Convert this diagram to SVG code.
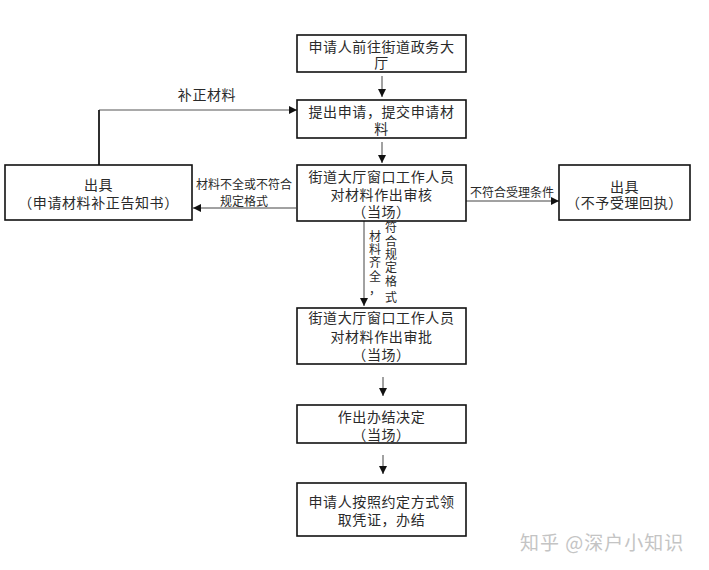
<svg xmlns="http://www.w3.org/2000/svg" width="709" height="570" viewBox="0 0 709 570">
<defs>
<marker id="ah" viewBox="0 0 10 10" refX="10" refY="5" markerWidth="8" markerHeight="8" markerUnits="userSpaceOnUse" orient="auto">
<path d="M0,0 L10,5 L0,10 z" fill="#111"/>
</marker>
<style>
.box{fill:#fff;stroke:#111;stroke-width:1.6}
.t{font-family:"Liberation Sans","Noto Sans CJK SC",sans-serif;font-size:14px;fill:#2a2a2a;text-anchor:middle;letter-spacing:0.6px}
.s{font-family:"Liberation Sans","Noto Sans CJK SC",sans-serif;font-size:12px;fill:#2a2a2a;text-anchor:middle}
.c{fill:none;stroke:#444;stroke-width:1}
.wm{font-family:"Noto Sans CJK SC",sans-serif;font-size:19px;fill:#c4c4c4;text-anchor:start;letter-spacing:1px}
</style>
</defs>
<rect width="709" height="570" fill="#fff"/>
<g id="connectors">
<line class="c" x1="382" y1="76" x2="382" y2="97" marker-end="url(#ah)"/>
<line class="c" x1="382" y1="142" x2="382" y2="163" marker-end="url(#ah)"/>
<polyline points="99,165 99,110 297,110" fill="none" stroke="#555" stroke-width="1" marker-end="url(#ah)"/>
<line x1="99" y1="165" x2="99" y2="110" stroke="#111" stroke-width="1.6"/>
<line class="c" x1="296" y1="208" x2="193" y2="208" marker-end="url(#ah)"/>
<line class="c" x1="466" y1="201" x2="559" y2="201" marker-end="url(#ah)"/>
<line class="c" x1="364" y1="221" x2="364" y2="306" marker-end="url(#ah)"/>
<line class="c" x1="383" y1="377" x2="383" y2="396" marker-end="url(#ah)"/>
<line class="c" x1="383" y1="455" x2="383" y2="474" marker-end="url(#ah)"/>
<text class="t" x="207" y="100">补正材料</text>
<text class="s" x="244" y="189">材料不全或不符合</text>
<text class="s" x="244" y="206">规定格式</text>
<text class="s" x="512" y="197">不符合受理条件</text>
<text class="s"><tspan x="375" y="241">材</tspan><tspan x="375" y="254">料</tspan><tspan x="375" y="267">齐</tspan><tspan x="375" y="281">全</tspan><tspan x="375" y="294">，</tspan></text>
<text class="s"><tspan x="391" y="232">符</tspan><tspan x="391" y="246">合</tspan><tspan x="391" y="259">规</tspan><tspan x="391" y="272">定</tspan><tspan x="391" y="286">格</tspan><tspan x="391" y="302">式</tspan></text>
</g>
<g id="n1"><rect class="box" x="297" y="35" width="169" height="37"/>
<text class="t" x="381.5" y="52">申请人前往街道政务大</text><text class="t" x="381.5" y="68">厅</text></g>
<g id="n2"><rect class="box" x="297" y="100" width="169" height="38"/>
<text class="t" x="381.5" y="117">提出申请，提交申请材</text><text class="t" x="381.5" y="134">料</text></g>
<g id="n3"><rect class="box" x="297" y="165" width="169" height="56"/>
<text class="t" x="381.5" y="182">街道大厅窗口工作人员</text><text class="t" x="381.5" y="200">对材料作出审核</text><text class="t" x="381.5" y="217">（当场）</text></g>
<g id="n_left"><rect class="box" x="5" y="165" width="187" height="55"/>
<text class="t" x="98.5" y="190">出具</text><text class="t" x="98.5" y="208">（申请材料补正告知书）</text></g>
<g id="n_right"><rect class="box" x="559" y="165" width="131" height="55"/>
<text class="t" x="624.5" y="192">出具</text><text class="t" x="624.5" y="208">（不予受理回执）</text></g>
<g id="n4"><rect class="box" x="297" y="308" width="169" height="56"/>
<text class="t" x="381.5" y="323">街道大厅窗口工作人员</text><text class="t" x="381.5" y="342">对材料作出审批</text><text class="t" x="381.5" y="360">（当场）</text></g>
<g id="n5"><rect class="box" x="297" y="405" width="169" height="38"/>
<text class="t" x="381.5" y="422">作出办结决定</text><text class="t" x="381.5" y="440">（当场）</text></g>
<g id="n6"><rect class="box" x="297" y="483" width="169" height="53"/>
<text class="t" x="381.5" y="507">申请人按照约定方式领</text><text class="t" x="381.5" y="525">取凭证，办结</text></g>
<text class="wm" x="520" y="550">知乎 @深户小知识</text>
</svg>
